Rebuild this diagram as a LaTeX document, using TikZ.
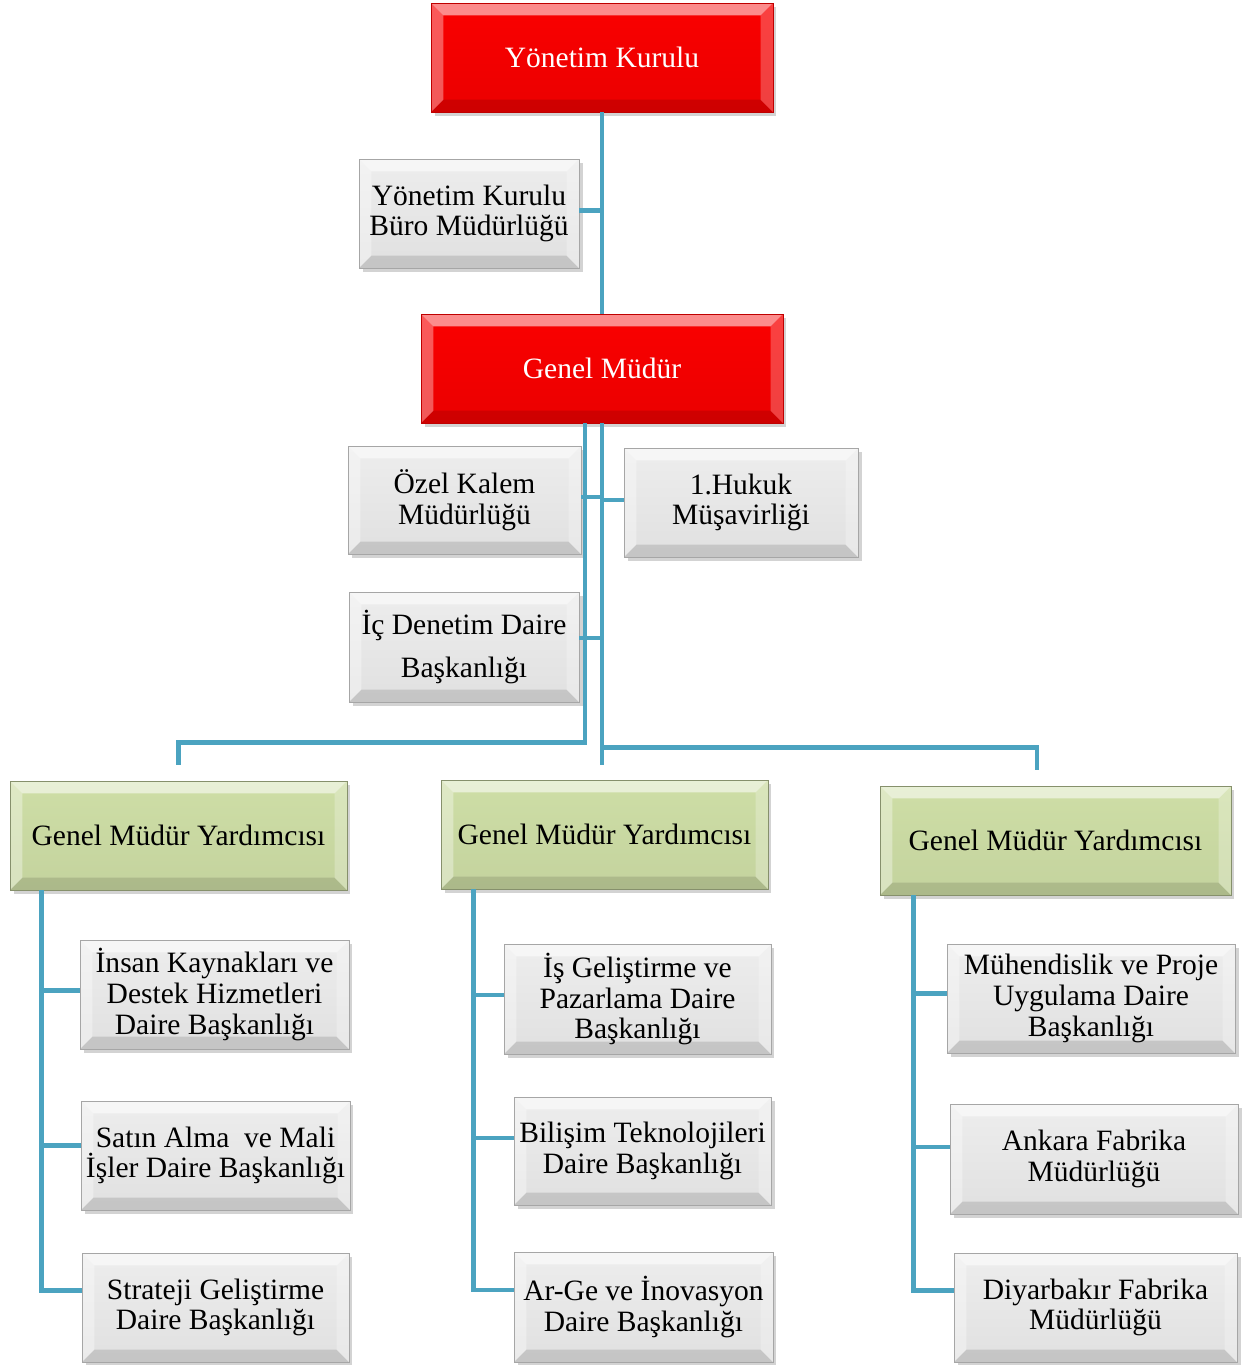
\documentclass[tikz,border=0pt]{standalone}
\usepackage{fontspec}
\setmainfont{Liberation Serif}
\usetikzlibrary{shadows}

\definecolor{hatrengi}{RGB}{75,163,192}
\definecolor{kirmizi}{RGB}{250,0,0}
\definecolor{yesil}{RGB}{206,222,166}

\tikzset{
  kutu/.style={rectangle, inner sep=1pt, align=center, minimum height=2.18cm,
    font=\fontsize{16.8}{17.5}\selectfont,
    drop shadow={shadow xshift=2pt, shadow yshift=-2pt, opacity=0.35},
    path picture={
      \fill[white, opacity=0.55] (path picture bounding box.north west) -- (path picture bounding box.north east)
        -- ++(-7pt,-7pt) -- ([shift={(7pt,-7pt)}]path picture bounding box.north west) -- cycle;
      \fill[white, opacity=0.35] (path picture bounding box.north west) -- (path picture bounding box.south west)
        -- ++(7pt,7pt) -- ([shift={(7pt,-7pt)}]path picture bounding box.north west) -- cycle;
      \fill[black, opacity=0.12] (path picture bounding box.south west) -- (path picture bounding box.south east)
        -- ++(-7pt,7pt) -- ([shift={(7pt,7pt)}]path picture bounding box.south west) -- cycle;
      \fill[white, opacity=0.25] (path picture bounding box.north east) -- (path picture bounding box.south east)
        -- ++(-7pt,7pt) -- ([shift={(-7pt,-7pt)}]path picture bounding box.north east) -- cycle;
    }},
  kirmizikutu/.style={kutu, draw=red!75!black, top color=kirmizi, bottom color=red!92!black, text=white},
  grikutu/.style={kutu, draw=gray!70, top color=gray!14, middle color=gray!3, bottom color=gray!24},
  yesilkutu/.style={kutu, draw=yesil!65!black, top color=yesil, bottom color=yesil!95!black},
  baglanti/.style={draw=hatrengi, line width=2.8pt}
}

\begin{document}
\begin{tikzpicture}[x=0.02cm, y=-0.02cm]
  \useasboundingbox (0,0) rectangle (1253,1365);

  \node[kirmizikutu, minimum width=6.84cm] (yk) at (602,57.5) {Yönetim Kurulu};
  \node[grikutu, minimum width=4.4cm] (buro) at (469,213.5) {Yönetim Kurulu\\Büro Müdürlüğü};
  \node[kirmizikutu, minimum width=7.24cm] (gm) at (602,368.5) {Genel Müdür};
  \node[grikutu, minimum width=4.66cm, minimum height=2.16cm] (ozel) at (464.5,500) {Özel Kalem\\Müdürlüğü};
  \node[grikutu, minimum width=4.68cm] (hukuk) at (741,502.5) {1.Hukuk\\Müşavirliği};
  \node[grikutu, minimum width=4.6cm, minimum height=2.2cm] (icd) at (464,647) {İç Denetim Daire\\[0.26cm]Başkanlığı};

  \node[yesilkutu, minimum width=6.74cm] (gmy1) at (178.5,835.5) {Genel Müdür Yardımcısı};
  \node[yesilkutu, minimum width=6.54cm] (gmy2) at (604.5,834.5) {Genel Müdür Yardımcısı};
  \node[yesilkutu, minimum width=7.02cm] (gmy3) at (1055.5,840.5) {Genel Müdür Yardımcısı};

  \node[grikutu, minimum width=5.38cm] (ik) at (214.5,994.5) {İnsan Kaynakları ve\\Destek Hizmetleri\\Daire Başkanlığı};
  \node[grikutu, minimum width=5.38cm] (sa) at (215.5,1155.5) {Satın Alma \ ve Mali\\İşler Daire Başkanlığı};
  \node[grikutu, minimum width=5.34cm] (st) at (215.5,1307.5) {Strateji Geliştirme\\Daire Başkanlığı};

  \node[grikutu, minimum width=5.34cm, minimum height=2.2cm] (is) at (637.5,999) {İş Geliştirme ve\\Pazarlama Daire\\Başkanlığı};
  \node[grikutu, minimum width=5.14cm, minimum height=2.16cm] (bil) at (642.5,1151) {Bilişim Teknolojileri\\Daire Başkanlığı};
  \node[grikutu, minimum width=5.18cm, minimum height=2.2cm] (arge) at (643.5,1307) {Ar-Ge ve İnovasyon\\Daire Başkanlığı};

  \node[grikutu, minimum width=5.76cm] (muh) at (1091,998.5) {Mühendislik ve Proje\\Uygulama Daire\\Başkanlığı};
  \node[grikutu, minimum width=5.76cm, minimum height=2.2cm] (ank) at (1094,1159) {Ankara Fabrika\\Müdürlüğü};
  \node[grikutu, minimum width=5.66cm] (diy) at (1095.5,1307.5) {Diyarbakır Fabrika\\Müdürlüğü};

  \coordinate (gmL) at ([xshift=-0.34cm]gm.south);
  \coordinate (gmR) at ([xshift=-0.37cm]gmy3.north);
  \coordinate (v1) at ([xshift=0.64cm]gmy1.south west);
  \coordinate (v2) at ([xshift=0.66cm]gmy2.south west);
  \coordinate (v3) at ([xshift=0.68cm]gmy3.south west);

  \draw[baglanti] (yk.south) -- (gm.north);
  \draw[baglanti] ([yshift=0.06cm]buro.east) -- ([yshift=0.06cm]buro.east -| yk.south);

  \draw[baglanti] (gm.south) |- ([yshift=0.76cm]gmR) -- ([yshift=0.32cm]gmR);
  \draw[baglanti] (gmL) |- ([yshift=0.76cm]gmy1.north) -- ([yshift=0.32cm]gmy1.north);
  \draw[baglanti] ([yshift=-6.4cm]gm.south) -- ([yshift=0.3cm]gm.south |- gmy2.north);
  \draw[baglanti] ([yshift=0.06cm]ozel.east) -- ([yshift=0.06cm]ozel.east -| gm.south);
  \draw[baglanti] ([yshift=0.05cm]hukuk.west) -- ([yshift=0.05cm]hukuk.west -| gm.south);
  \draw[baglanti] ([yshift=0.18cm]icd.east) -- ([yshift=0.18cm]icd.east -| gm.south);

  \draw[baglanti] (v1) |- ([yshift=0.08cm]ik.west);
  \draw[baglanti] (v1) |- ([yshift=0.2cm]sa.west);
  \draw[baglanti] (v1) |- ([yshift=0.34cm]st.west);
  \draw[baglanti] (v2) |- ([yshift=0.08cm]is.west);
  \draw[baglanti] (v2) |- ([yshift=0.26cm]bil.west);
  \draw[baglanti] (v2) |- ([yshift=0.34cm]arge.west);
  \draw[baglanti] (v3) |- ([yshift=0.1cm]muh.west);
  \draw[baglanti] (v3) |- ([yshift=0.24cm]ank.west);
  \draw[baglanti] (v3) |- ([yshift=0.34cm]diy.west);
\end{tikzpicture}
\end{document}
